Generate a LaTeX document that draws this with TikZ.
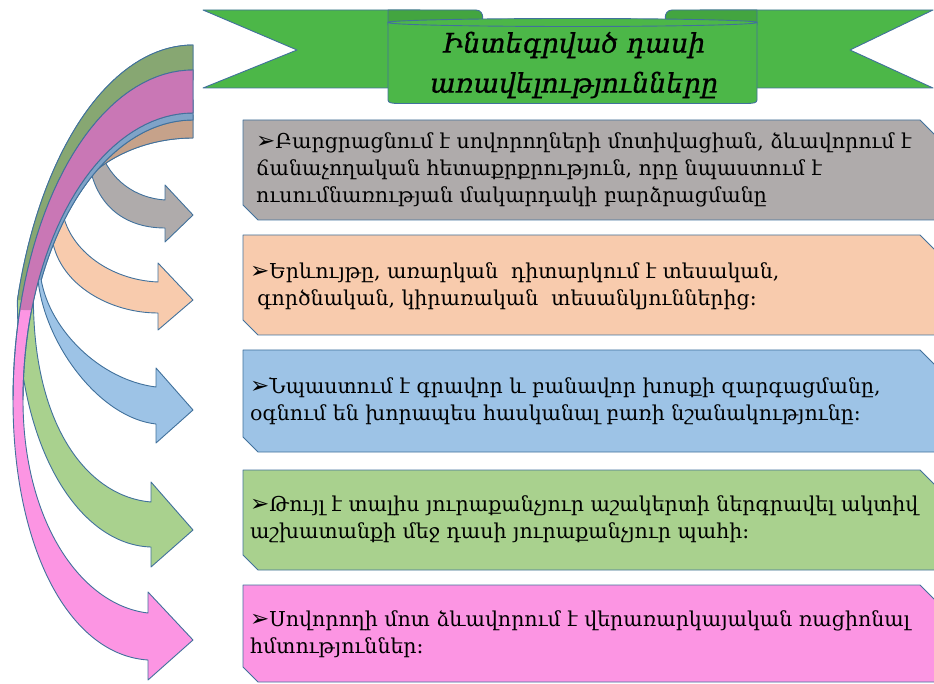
\documentclass[tikz,border=0pt]{standalone}
\usepackage{fontspec}
\setmainfont{DejaVu Serif}
\newfontfamily\symf{DejaVu Sans}
\newfontfamily\ttlf{DejaVu Serif}[FakeBold=0.7]
\definecolor{olc}{HTML}{41719C}
\definecolor{bgray}{HTML}{AFABAB}
\definecolor{bpeach}{HTML}{F8CBAD}
\definecolor{bblue}{HTML}{9DC3E6}
\definecolor{bgreen}{HTML}{A9D18E}
\definecolor{bpink}{HTML}{FC95E3}
\definecolor{dpeach}{HTML}{C6A28A}
\definecolor{dblue}{HTML}{7FA3C8}
\definecolor{dgreen}{HTML}{87A772}
\definecolor{dpink}{HTML}{C977B5}
\definecolor{rib}{HTML}{4CB748}
\definecolor{ribd}{HTML}{43A540}
\newcommand\bul{{\symf\fontsize{23}{23}\selectfont ➢}}
\newcommand\snipbox[3]{\path[fill=#3, ol] (243,#1) -- (920,#1) -- (950,#1+30) -- (950,#2) -- (258,#2) -- (243,#2-15) -- cycle;}
\begin{document}
\begin{tikzpicture}[x=1pt,y=-1pt, line join=round,
  ol/.style={draw=olc, line width=0.9pt},
  txt/.style={font=\fontsize{20.5}{27}\selectfont, align=left, inner sep=0pt, anchor=west, text=black},
  ttl/.style={font=\ttlf\fontsize{27}{40}\selectfont\itshape, align=center, inner sep=0pt}]
\useasboundingbox (0,0) rectangle (934,684);
\clip (0,0) rectangle (934,684);

% ---------- banner ----------
\path[fill=rib, ol] (420,10) -- (203,10) -- (297,50) -- (203,88) -- (420,88) -- cycle;
\path[fill=rib, ol] (700,10) -- (933,10) -- (850,50) -- (933,88) -- (700,88) -- cycle;
\path[fill=ribd, ol] (388,10) -- (476,10) .. controls (485,10) and (485,25) .. (476,25) -- (388,25) -- cycle;
\path[fill=ribd, ol] (757,10) -- (672,10) .. controls (663,10) and (663,25) .. (672,25) -- (757,25) -- cycle;
\path[fill=rib, ol] (388,22) -- (388,100) .. controls (388,103) and (392,103.5) .. (400,103.5) -- (745,103.5) .. controls (753,103.5) and (757,103) .. (757,100) -- (757,22) -- cycle;
\path[fill=rib, ol] (572.5,22.5) ellipse [x radius=184.5, y radius=4];
\node[ttl] (title) at (574,65) {Ինտեգրված դասի\\առավելությունները};

% ---------- boxes ----------
\snipbox{120}{220}{bgray}
\snipbox{235}{335}{bpeach}
\snipbox{350}{452}{bblue}
\snipbox{470}{570}{bgreen}
\snipbox{585}{682}{bpink}

\node[txt] (t1) at (256,170) {\bul Բարցրացնում է սովորողների մոտիվացիան, ձևավորում է\\ճանաչողական հետաքրքրություն, որը նպաստում է\\ուսումնառության մակարդակի բարձրացմանը};
\node[txt] (t2) at (250,286) {\bul Երևույթը, առարկան\ \ դիտարկում է տեսական,\\\hspace*{0.35em}գործնական, կիրառական\ \ տեսանկյուններից:};
\node[txt] (t3) at (250,401) {\bul Նպաստում է գրավոր և բանավոր խոսքի զարգացմանը,\\օգնում են խորապես հասկանալ բառի նշանակությունը:};
\node[txt] (t4) at (250,519) {\bul Թույլ է տալիս յուրաքանչյուր աշակերտի ներգրավել ակտիվ\\աշխատանքի մեջ դասի յուրաքանչյուր պահի:};
\node[txt] (t5) at (250,634) {\bul Սովորողի մոտ ձևավորում է վերառարկայական ռացիոնալ\\հմտություններ:};

% ---------- curved arrows ----------
% gray
\path[fill=bgray, ol] (88,150) .. controls (90,200) and (120,228) .. (165,228) -- (165,242) -- (193,215) -- (165,185) -- (165,200) .. controls (135,198) and (110,180) .. (100,150) -- cycle;
% peach
\path[fill=bpeach, ol] plot[domain=-90:-145.85, samples=40] ({193+170*cos(\x)},{400+285*sin(\x)})
  .. controls (60,285) and (110,313) .. (158,313) -- (158,330) -- (193,300) -- (158,263) -- (158,282)
  .. controls (110,280) and (70,250) .. (62.8,213)
  -- plot[domain=-160.7:-90, samples=40] ({193+138*cos(\x)},{250+112*sin(\x)}) -- cycle;
\fill[dpeach] plot[domain=-90:-145.85, samples=40] ({193+170*cos(\x)},{400+285*sin(\x)}) -- (62.8,213)
  -- plot[domain=-160.7:-90, samples=40] ({193+138*cos(\x)},{250+112*sin(\x)}) -- cycle;
\draw[ol] plot[domain=-160.7:-90, samples=40] ({193+138*cos(\x)},{250+112*sin(\x)})
  -- plot[domain=-90:-145.85, samples=40] ({193+170*cos(\x)},{400+285*sin(\x)});
% blue
\path[fill=bblue, ol] plot[domain=-90:-156.42, samples=40] ({193+175*cos(\x)},{400+300*sin(\x)})
  -- (38,280) .. controls (45,345) and (100,418) .. (156,424) -- (156,443) -- (193,410) -- (156,368) -- (156,387)
  .. controls (100,380) and (50,330) .. (41.2,280)
  -- plot[domain=-154.62:-90, samples=40] ({193+168*cos(\x)},{400+280*sin(\x)}) -- cycle;
\fill[dblue] plot[domain=-90:-156.42, samples=40] ({193+175*cos(\x)},{400+300*sin(\x)}) -- (41.2,280)
  -- plot[domain=-154.62:-90, samples=40] ({193+168*cos(\x)},{400+280*sin(\x)}) -- cycle;
\draw[ol] plot[domain=-154.62:-90, samples=40] ({193+168*cos(\x)},{400+280*sin(\x)})
  -- plot[domain=-90:-156.42, samples=40] ({193+175*cos(\x)},{400+300*sin(\x)});
% green
\path[fill=bgreen, ol] plot[domain=-90:-163.64, samples=40] ({193+183*cos(\x)},{400+355*sin(\x)})
  .. controls (17,450) and (80,545) .. (151,547) -- (151,567) -- (193,530) -- (151,482) -- (151,502)
  .. controls (90,497) and (34,430) .. (33.4,300)
  -- plot[domain=-161.79:-90, samples=40] ({193+168*cos(\x)},{400+320*sin(\x)}) -- cycle;
\fill[dgreen] plot[domain=-90:-163.64, samples=40] ({193+183*cos(\x)},{400+355*sin(\x)}) -- (33.4,300)
  -- plot[domain=-161.79:-90, samples=40] ({193+168*cos(\x)},{400+320*sin(\x)}) -- cycle;
\draw[ol] plot[domain=-161.79:-90, samples=40] ({193+168*cos(\x)},{400+320*sin(\x)})
  -- plot[domain=-90:-163.64, samples=40] ({193+183*cos(\x)},{400+355*sin(\x)});
% pink
\path[fill=bpink, ol] plot[domain=-90:-180, samples=40] ({193+180*cos(\x)},{400+330*sin(\x)})
  .. controls (13,550) and (70,655) .. (148,660) -- (148,680) -- (193,640) -- (148,592) -- (148,613)
  .. controls (80,605) and (23,520) .. (23,400)
  -- plot[domain=-180:-90, samples=40] ({193+170*cos(\x)},{400+287*sin(\x)}) -- cycle;
\fill[dpink] plot[domain=-90:-164.17, samples=40] ({193+180*cos(\x)},{400+330*sin(\x)})
  -- plot[domain=-161.73:-90, samples=40] ({193+170*cos(\x)},{400+287*sin(\x)}) -- cycle;
\draw[ol] plot[domain=-180:-90, samples=40] ({193+170*cos(\x)},{400+287*sin(\x)})
  -- plot[domain=-90:-180, samples=40] ({193+180*cos(\x)},{400+330*sin(\x)});
\end{tikzpicture}
\end{document}
